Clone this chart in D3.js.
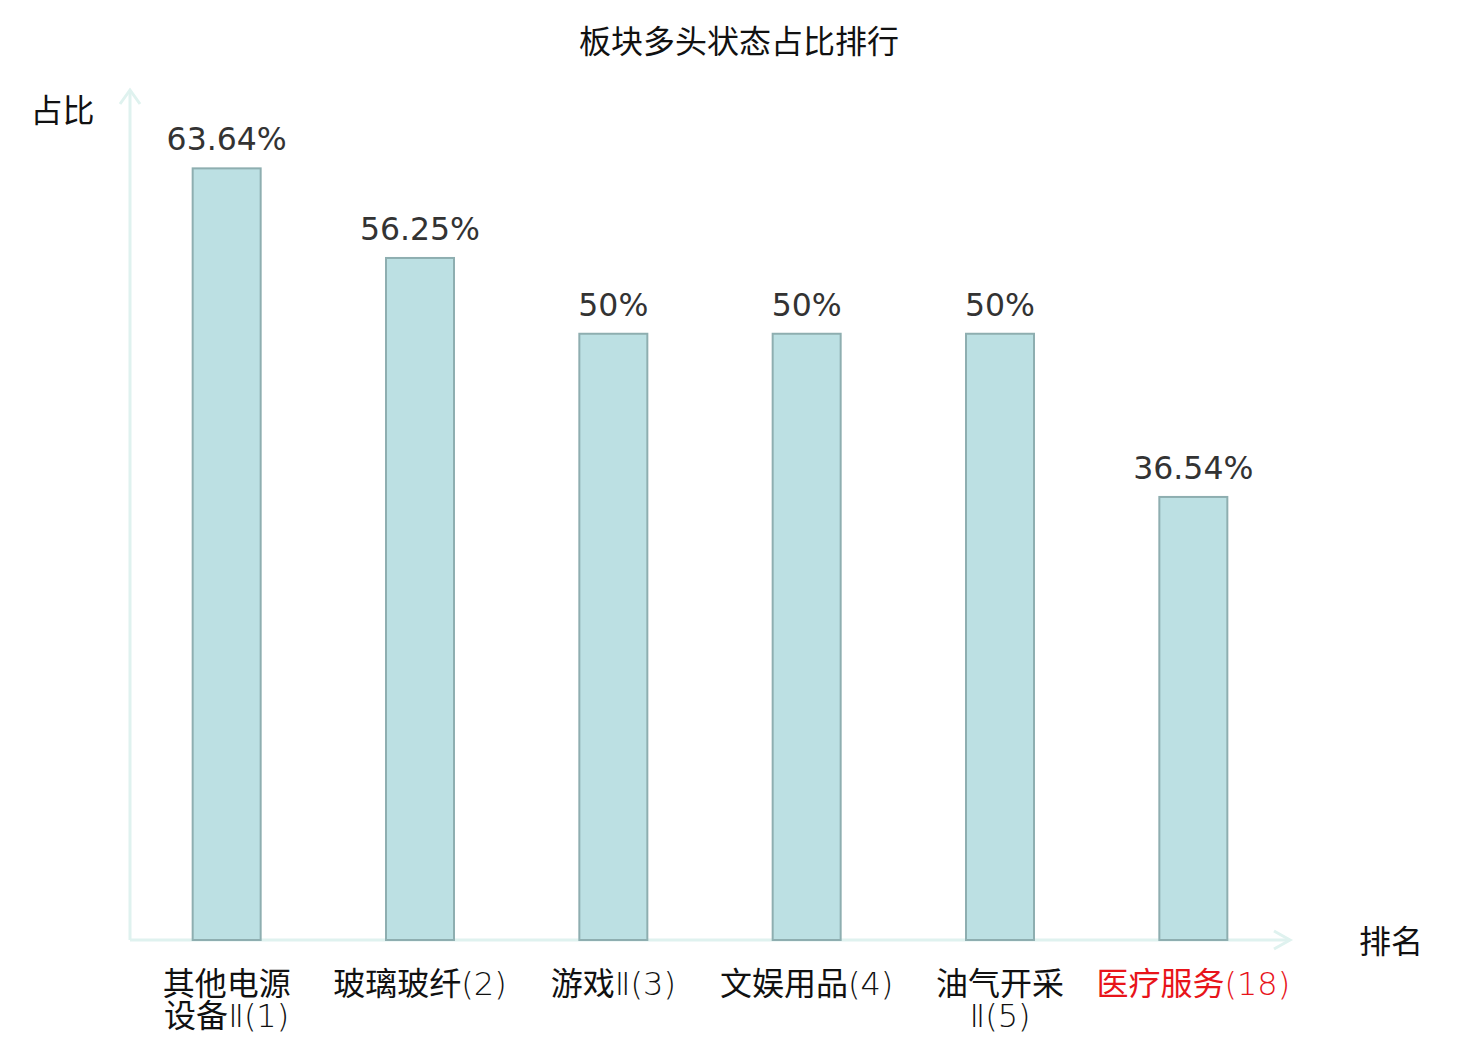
<!DOCTYPE html>
<html><head><meta charset="utf-8">
<script src="https://cdn.jsdelivr.net/npm/d3@7"></script>
<style>body{margin:0;background:#fff}svg{display:block}</style>
</head><body>
<svg id="c" width="1480" height="1040"></svg>
<script>
const title = "板块多头状态占比排行";
const categories = ["其他电源\n设备Ⅱ(1)", "玻璃玻纤(2)", "游戏Ⅱ(3)", "文娱用品(4)", "油气开采\nⅡ(5)", "医疗服务(18)"];
const values = [63.64, 56.25, 50, 50, 50, 36.54];
const valueLabels = ["63.64%", "56.25%", "50%", "50%", "50%", "36.54%"];
const highlight = [false, false, false, false, false, true];
const yName = "占比", xName = "排名";

(function () {
const svg = d3.select("#c");
const L = 130, R = 1290, B = 940, T = 91.25;
const x = d3.scaleBand().domain(categories).range([L, R]).paddingInner(0).paddingOuter(0);
const y = d3.scaleLinear().domain([0, 70]).range([B, T]);
const bw = 68;
const cjk = "'Noto Sans CJK SC','DejaVu Sans',sans-serif";
const axisColor = "#dff2ef";

svg.append("text").attr("x", 739).attr("y", 53).attr("text-anchor", "middle")
  .attr("font-family", cjk).attr("font-size", 32).attr("fill", "#111").text(title);

svg.append("line").attr("x1", L).attr("x2", L).attr("y1", B).attr("y2", 90)
  .attr("stroke", axisColor).attr("stroke-width", 3);
svg.append("path").attr("d", `M${L-10},104 L${L},90 L${L+10},104`).attr("fill", "none")
  .attr("stroke", axisColor).attr("stroke-width", 3);
svg.append("line").attr("x1", L).attr("x2", R).attr("y1", B).attr("y2", B)
  .attr("stroke", axisColor).attr("stroke-width", 3);
svg.append("path").attr("d", `M${R-16},931 L${R},${B} L${R-16},949`).attr("fill", "none")
  .attr("stroke", axisColor).attr("stroke-width", 3);

svg.append("text").attr("x", 62.5).attr("y", 122).attr("text-anchor", "middle")
  .attr("font-family", cjk).attr("font-size", 32).attr("fill", "#111").text(yName);
svg.append("text").attr("x", 1391).attr("y", 953).attr("text-anchor", "middle")
  .attr("font-family", cjk).attr("font-size", 32).attr("fill", "#111").text(xName);

const g = svg.append("g");
g.selectAll("rect").data(values).join("rect")
  .attr("x", (d, i) => x(categories[i]) + x.bandwidth() / 2 - bw / 2)
  .attr("y", d => y(d))
  .attr("width", bw)
  .attr("height", d => B - y(d))
  .attr("fill", "#bce0e3").attr("stroke", "#8eaeb0").attr("stroke-width", 2);

g.selectAll("text.v").data(values).join("text").attr("class", "v")
  .attr("x", (d, i) => x(categories[i]) + x.bandwidth() / 2)
  .attr("y", d => y(d) - 18)
  .attr("text-anchor", "middle").attr("font-family", "'DejaVu Sans',sans-serif")
  .attr("font-size", 31.5).attr("fill", "#333")
  .text((d, i) => valueLabels[i]);

const isCJK = ch => /[\u3400-\u9fff]/.test(ch);
categories.forEach((c, i) => {
  c.split("\n").forEach((ln, j) => {
    const t = svg.append("text").attr("text-anchor", "middle")
      .attr("x", x(c) + x.bandwidth() / 2).attr("y", 995 + j * 32)
      .attr("font-size", 32).attr("fill", highlight[i] ? "#e8141a" : "#111");
    const runs = [];
    for (const ch of ln) {
      const k = isCJK(ch);
      if (runs.length && runs[runs.length - 1].k === k) runs[runs.length - 1].s += ch;
      else runs.push({k, s: ch});
    }
    runs.forEach(r => {
      t.append("tspan")
        .attr("font-family", r.k ? cjk : "'DejaVu Sans',sans-serif")
        .attr("font-weight", r.k ? 400 : 200)
        .text(r.s);
    });
  });
});
})();
</script>
</body></html>
